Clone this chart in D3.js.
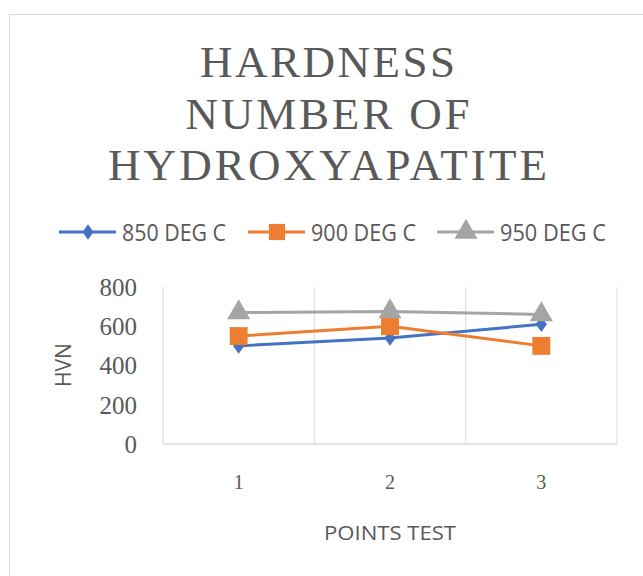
<!DOCTYPE html>
<html>
<head>
<meta charset="utf-8">
<script src="https://cdn.jsdelivr.net/npm/d3@7"></script>
<style>
    body { margin: 0; background: #fff; }
    svg { display: block; }
</style>
</head>
<body>
<div id="chart-area"></div>
<script>
// data
const categories = ["1", "2", "3"];
const seriesNames = ["850 DEG C", "900 DEG C", "950 DEG C"];
const hvn850 = [500, 540, 610];
const hvn900 = [550, 600, 500];
const hvn950 = [670, 675, 660];
const yTicks = [0, 200, 400, 600, 800];
const titleLines = ["HARDNESS", "NUMBER OF", "HYDROXYAPATITE"];

const colors = ["#4472C4", "#ED7D31", "#A5A5A5"];
const shapes = [d3.symbolDiamond, d3.symbolSquare, d3.symbolTriangle];
const series = [hvn850, hvn900, hvn950];

const W = 643, H = 576;
const plot = { left: 163, right: 617, top: 287, bottom: 444 };

const svg = d3.select("#chart-area").append("svg")
    .attr("width", W)
    .attr("height", H);

// chart frame
svg.append("rect")
    .attr("x", 9.5).attr("y", 14.5)
    .attr("width", 700).attr("height", 700)
    .attr("fill", "#fff")
    .attr("stroke", "#d9d9d9");

// title
const titleWidths = [255, 284, 439];
svg.append("g").selectAll("text").data(titleLines).enter()
    .append("text")
    .attr("x", 327.5)
    .attr("y", (d, i) => 77 + i * 51.5)
    .attr("text-anchor", "middle")
    .attr("font-family", "Liberation Serif, serif")
    .attr("font-size", 45)
    .attr("fill", "#595959")
    .attr("textLength", (d, i) => titleWidths[i])
    .attr("lengthAdjust", "spacing")
    .text(d => d);

// scales
const x = d3.scaleBand()
    .domain(categories)
    .range([plot.left, plot.right]);

const y = d3.scaleLinear()
    .domain([0, 800])
    .range([plot.bottom, plot.top]);

const cx = d => x(d) + x.bandwidth() / 2;

// vertical gridlines at category boundaries
const bounds = categories.map(c => x(c)).concat([plot.right]);
svg.append("g").selectAll("line").data(bounds).enter()
    .append("line")
    .attr("x1", d => d).attr("x2", d => d)
    .attr("y1", plot.top).attr("y2", plot.bottom)
    .attr("stroke", "#d9d9d9")
    .attr("stroke-width", 1);

// bottom axis line
svg.append("line")
    .attr("x1", plot.left).attr("x2", plot.right)
    .attr("y1", plot.bottom).attr("y2", plot.bottom)
    .attr("stroke", "#d9d9d9")
    .attr("stroke-width", 1.5);

// y axis
const yAxisCall = d3.axisLeft(y).tickValues(yTicks).tickSize(0).tickPadding(0);
const yAxis = svg.append("g")
    .attr("transform", "translate(137, 0)")
    .call(yAxisCall);
yAxis.select(".domain").remove();
yAxis.selectAll("text")
    .attr("font-family", "Liberation Serif, serif")
    .attr("font-size", 25)
    .attr("fill", "#595959")
    .attr("dy", "0.33em");

// x axis
const xAxisCall = d3.axisBottom(x).tickSize(0).tickPadding(0);
const xAxis = svg.append("g")
    .attr("transform", `translate(0, ${plot.bottom})`)
    .call(xAxisCall);
xAxis.select(".domain").remove();
xAxis.selectAll("text")
    .attr("font-family", "Liberation Serif, serif")
    .attr("font-size", 20)
    .attr("fill", "#595959")
    .attr("dy", 0)
    .attr("y", 45);

// axis titles
svg.append("text")
    .attr("x", 390)
    .attr("y", 540)
    .attr("text-anchor", "middle")
    .attr("font-family", "Open Sans, sans-serif")
    .attr("font-size", 20)
    .attr("fill", "#595959")
    .attr("textLength", 132)
    .attr("lengthAdjust", "spacingAndGlyphs")
    .text("POINTS TEST");

svg.append("text")
    .attr("transform", "translate(71, 365) rotate(-90)")
    .attr("text-anchor", "middle")
    .attr("font-family", "Open Sans, sans-serif")
    .attr("font-size", 22)
    .attr("fill", "#595959")
    .attr("textLength", 44)
    .attr("lengthAdjust", "spacingAndGlyphs")
    .text("HVN");

// lines and markers
const line = d3.line()
    .x((d, i) => cx(categories[i]))
    .y(d => y(d));

const markerSize = [70, 320, 230];
const diamondScale = " scale(1.25,1)";

series.forEach((vals, s) => {
    const g = svg.append("g");
    g.append("path")
        .datum(vals)
        .attr("d", line)
        .attr("fill", "none")
        .attr("stroke", colors[s])
        .attr("stroke-width", 3)
        .attr("stroke-linejoin", "round");
    g.selectAll("path.mark").data(vals).enter()
        .append("path")
        .attr("class", "mark")
        .attr("transform", (d, i) => `translate(${cx(categories[i])}, ${y(d)})` + (s === 0 ? diamondScale : ""))
        .attr("d", d3.symbol().type(shapes[s]).size(markerSize[s]))
        .attr("fill", colors[s]);
});

// legend
const legendX = [59, 248, 437];
const legendTextW = [104, 105, 106];
const legend = svg.append("g");
seriesNames.forEach((name, s) => {
    const lg = legend.append("g").attr("transform", `translate(${legendX[s]}, 232)`);
    lg.append("line")
        .attr("x1", 0).attr("x2", 57)
        .attr("y1", 0).attr("y2", 0)
        .attr("stroke", colors[s])
        .attr("stroke-width", 3);
    lg.append("path")
        .attr("transform", `translate(29, 0)` + (s === 0 ? diamondScale : ""))
        .attr("d", d3.symbol().type(shapes[s]).size(s === 1 ? 260 : markerSize[s]))
        .attr("fill", colors[s]);
    lg.append("text")
        .attr("x", 63)
        .attr("y", 9)
        .attr("font-family", "Open Sans, sans-serif")
        .attr("font-size", 23)
        .attr("fill", "#595959")
        .attr("textLength", legendTextW[s])
        .attr("lengthAdjust", "spacingAndGlyphs")
        .text(name);
});
</script>
</body>
</html>
